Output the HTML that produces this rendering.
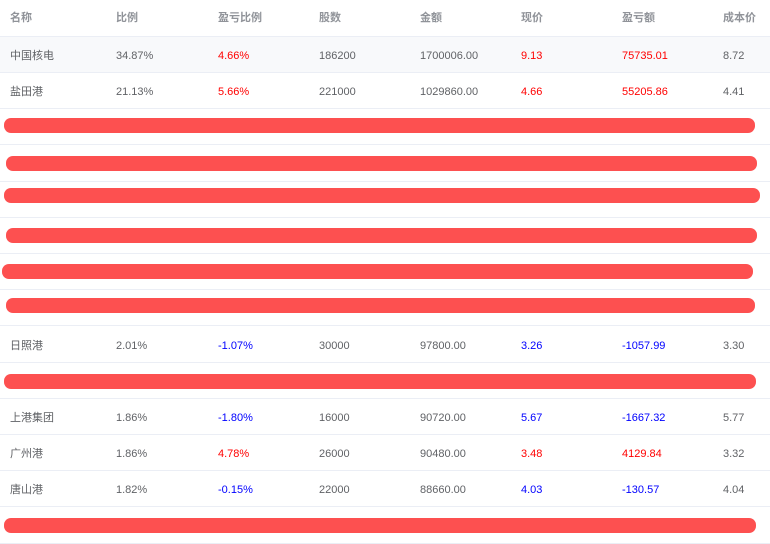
<!DOCTYPE html>
<html><head><meta charset="utf-8"><style>
body{margin:0;width:770px;height:544px;background:#fff;position:relative;overflow:hidden;font-family:"Liberation Sans","Noto Sans CJK SC",sans-serif;font-size:11px;color:#606266}
.row{position:absolute;left:0;width:770px;height:36px;border-bottom:1px solid #ebeef5;box-sizing:border-box}
.h{height:37px}
.c{position:absolute;top:1px;line-height:36px;white-space:nowrap}
.h .c{color:#909399;font-weight:bold;top:0}
.r{color:#f00}.b{color:#00f}
.bar{position:absolute;height:15px;background:#fd5050;border-radius:7px}
</style></head><body>
<div id="t"></div>
<script>
const cols=[10,116,218,319,420,521,622,723];
const headers=["名称","比例","盈亏比例","股数","金额","现价","盈亏额","成本价"];
const rows=[
["中国核电","34.87%","4.66%","186200","1700006.00","9.13","75735.01","8.72"],
["盐田港","21.13%","5.66%","221000","1029860.00","4.66","55205.86","4.41"],
null,null,null,null,null,null,
["日照港","2.01%","-1.07%","30000","97800.00","3.26","-1057.99","3.30"],
null,
["上港集团","1.86%","-1.80%","16000","90720.00","5.67","-1667.32","5.77"],
["广州港","1.86%","4.78%","26000","90480.00","3.48","4129.84","3.32"],
["唐山港","1.82%","-0.15%","22000","88660.00","4.03","-130.57","4.04"],
null];
const bars=[[4,118,751],[6,156,751],[4,188,756],[6,228,751],[2,264,751],[6,298,749],[4,374,752],[4,518,752]];
const t=document.getElementById('t');
function mk(cls,top){const d=document.createElement('div');d.className=cls;d.style.top=top+'px';t.appendChild(d);return d;}
const h=mk('row h',0);


headers.forEach((s,i)=>{const c=document.createElement('div');c.className='c';c.style.left=cols[i]+'px';c.textContent=s;


h.appendChild(c);});
rows.forEach((r,k)=>{const top=37+k*36.2;const d=mk('row',Math.round(top));


if(k===0)d.style.background='#f8f9fb';
if(!r)return;
const neg=r[2][0]==='-';
r.forEach((s,i)=>{const c=document.createElement('div');c.className='c'+((i==2||i==5||i==6)?(neg?' b':' r'):'');c.style.left=cols[i]+'px';c.textContent=s;


d.appendChild(c);});});
bars.forEach(b=>{const e=document.createElement('div');e.className='bar';e.style.left=b[0]+'px';e.style.top=b[1]+'px';e.style.width=b[2]+'px';


t.appendChild(e);});
</script>
</body></html>
